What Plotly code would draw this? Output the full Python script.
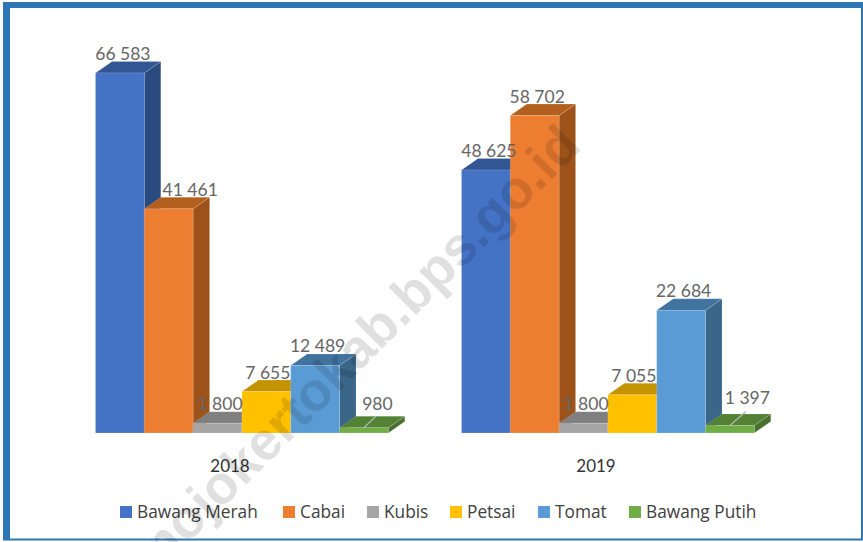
import plotly.graph_objects as go

# ---- data ----
years = ["2018", "2019"]
series = ["Bawang Merah", "Cabai", "Kubis", "Petsai", "Tomat", "Bawang Putih"]
bawang_merah = [66583, 48625]
cabai = [41461, 58702]
kubis = [1800, 1800]
petsai = [7655, 7055]
tomat = [12489, 22684]
bawang_putih = [980, 1397]
values = [bawang_merah, cabai, kubis, petsai, tomat, bawang_putih]

# ---- styling ----
front = ["#4472C4", "#ED7D31", "#A5A5A5", "#FFC000", "#5B9BD5", "#70AD47"]
top_c = ["#325594", "#B3601F", "#7F7F7F", "#C49300", "#41739F", "#548235"]
side = ["#2A4A80", "#9C5219", "#6E6E6E", "#A67C00", "#3A6689", "#4A7030"]
W, H = 863, 542
BASE = 433.0                # pixel row of value 0
SCALE = 360.0 / 66583       # pixels per unit
GROUP_X = [95.5, 461.5]
BAR_W = 48.8
DX, DY = 16.5, 11.5 / SCALE
LABEL_SHIFT = [[3.5, 22, 3, 2, 3, 14], [3.5, 3, 3, 2, 3, 18]]
LABEL_RISE = [[8.5, 8.5, 9, 8, 9, 13], [8.5, 8, 9, 8.5, 9, 17]]
FONT = "Lato, Carlito, Calibri, sans-serif"


def py(row):
    return (BASE - row) / BASE


def fmt(v):
    return f"{v:,}".replace(",", " ")


fig = go.Figure()


def face(xs, ys, color):
    fig.add_trace(go.Scatter(x=xs, y=ys, mode="lines", fill="toself", fillcolor=color,
                             line=dict(color="rgba(255,255,255,0.18)", width=0.8),
                             hoverinfo="skip", showlegend=False))


for g, gx in enumerate(GROUP_X):
    for s, vals in enumerate(values):
        v = vals[g]
        x0 = gx + s * BAR_W
        x1 = x0 + BAR_W
        face([x1, x1 + DX, x1 + DX, x1, x1], [0, DY, v + DY, v, 0], side[s])
        face([x0, x0 + DX, x1 + DX, x1, x0], [v, v + DY, v + DY, v, v], top_c[s])
        face([x0, x0, x1, x1, x0], [0, v, v, 0, 0], front[s])

# leader lines of the two small bars
for g, gx in enumerate(GROUP_X):
    s = 5
    x0 = gx + s * BAR_W
    v = values[s][g]
    lift = LABEL_RISE[g][s] - 13
    fig.add_trace(go.Scatter(x=[x0 + BAR_W / 2, x0 + BAR_W / 2 + 12 + lift],
                             y=[v, v + DY + (lift * 0.6) / SCALE],
                             mode="lines", line=dict(color="#B4B4B4", width=1.2),
                             hoverinfo="skip", showlegend=False))

# data labels
for g, gx in enumerate(GROUP_X):
    fig.add_trace(go.Scatter(
        x=[gx + s * BAR_W + BAR_W / 2 + LABEL_SHIFT[g][s] - 0.5 for s in range(6)],
        y=[values[s][g] + DY + (LABEL_RISE[g][s] - 2.5) / SCALE for s in range(6)],
        text=[fmt(values[s][g]) for s in range(6)],
        mode="text", textposition="middle center",
        textfont=dict(family=FONT, size=17.5, color="#666666"),
        cliponaxis=False, hoverinfo="skip", showlegend=False))

shapes = [
    dict(type="rect", xref="x", yref="paper", x0=3, x1=W + 3, y0=py(540.5), y1=py(2), layer="below",
         fillcolor="#2E75B6", line=dict(width=0)),
    dict(type="rect", xref="x", yref="paper", x0=10, x1=861, y0=py(538.5), y1=py(8), layer="below",
         fillcolor="#FFFFFF", line=dict(width=0)),
]

# hand-placed legend so the swatch spacing matches the picture
legend_x = [120, 283, 367, 450, 538, 629]
annotations = []
for s, name in enumerate(series):
    shapes.append(dict(type="rect", xref="x", yref="paper", x0=legend_x[s], x1=legend_x[s] + 12,
                       y0=py(518), y1=py(506), fillcolor=front[s], line=dict(width=0), layer="above"))
    annotations.append(dict(x=legend_x[s] + 15, y=py(511.5), xref="x", yref="paper", text=name,
                            showarrow=False, xanchor="left", yanchor="middle",
                            font=dict(family="Open Sans, sans-serif", size=17.3, color="#404040")))

# watermark
annotations.append(dict(x=354, y=py(350), xref="x", yref="paper", text="mojokertokab.bps.go.id",
                        showarrow=False, textangle=-45, xanchor="center", yanchor="middle",
                        font=dict(family="Liberation Sans", size=54, weight="bold", color="rgba(0,0,0,0.12)")))

fig.update_layout(
    width=W, height=H, margin=dict(l=0, r=0, t=0, b=H - BASE, pad=0),
    paper_bgcolor="#FFFFFF", plot_bgcolor="rgba(0,0,0,0)", showlegend=False,
    shapes=shapes, annotations=annotations,
    xaxis=dict(range=[0, W], showgrid=False, zeroline=False, showline=False,
               tickmode="array", tickvals=[gx + 134.5 for gx in GROUP_X], ticktext=years,
               ticks="outside", ticklen=18, tickcolor="rgba(0,0,0,0)",
               tickfont=dict(family=FONT, size=17, color="#333333")),
    yaxis=dict(range=[0, BASE / SCALE], visible=False),
)

fig.write_html("out.html", config=dict(displayModeBar=False),
               post_script="document.body.style.margin='0';document.body.style.overflow='hidden';window.dispatchEvent(new Event('resize'));")
